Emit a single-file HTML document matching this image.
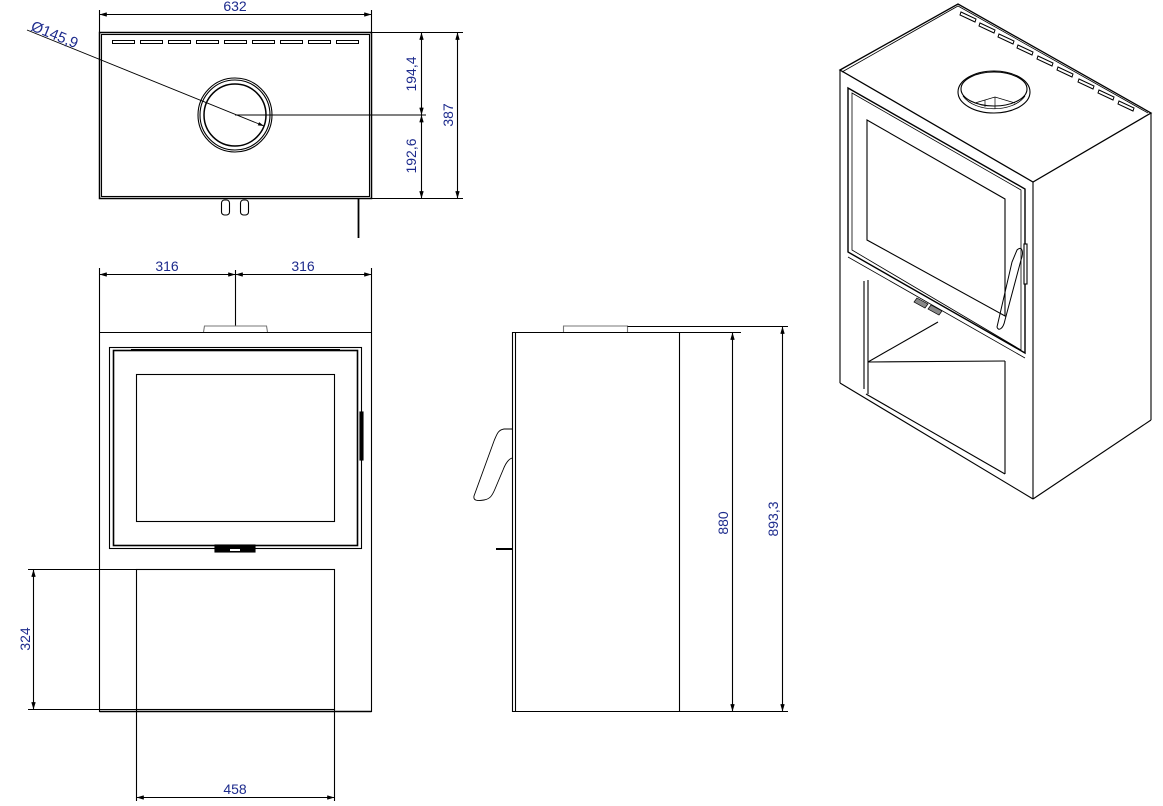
<!DOCTYPE html>
<html><head><meta charset="utf-8"><style>
html,body{margin:0;padding:0;background:#fff;}
svg{display:block;}
text{font-family:"Liberation Sans",sans-serif;font-size:14px;fill:#1c2a8c;}
</style></head><body>
<svg width="1163" height="806" viewBox="0 0 1163 806" xmlns="http://www.w3.org/2000/svg">
<defs>
<marker id="a" viewBox="0 0 10 6" refX="10" refY="3" markerWidth="8" markerHeight="4" orient="auto-start-reverse"><path d="M0,0L10,3L0,6z" fill="#000"/></marker>
</defs>
<g fill="none" stroke="#000" stroke-width="1.1">
<!-- TOP VIEW -->
<rect x="99.5" y="32.5" width="272" height="166" stroke-width="1.5"/>
<rect x="101.5" y="34.5" width="268" height="162"/>
<g stroke-width="1">
<rect x="112.5" y="40.5" width="22" height="3"/><rect x="140.5" y="40.5" width="22" height="3"/><rect x="168.5" y="40.5" width="22" height="3"/><rect x="196.5" y="40.5" width="22" height="3"/><rect x="224.5" y="40.5" width="22" height="3"/><rect x="252.5" y="40.5" width="22" height="3"/><rect x="280.5" y="40.5" width="22" height="3"/><rect x="308.5" y="40.5" width="22" height="3"/><rect x="336.5" y="40.5" width="22" height="3"/>
</g>
<circle cx="235" cy="115" r="37"/><circle cx="235" cy="115" r="35"/><circle cx="235" cy="115" r="31" stroke-width="1.5"/>
<line x1="27" y1="30" x2="264" y2="126" stroke-width="0.9" marker-end="url(#a)"/>
<line x1="235" y1="115" x2="426" y2="115"/>
<line x1="99.5" y1="10" x2="99.5" y2="32"/><line x1="371.5" y1="10" x2="371.5" y2="32"/>
<line x1="99.5" y1="14.5" x2="371.5" y2="14.5" marker-start="url(#a)" marker-end="url(#a)"/>
<line x1="371" y1="32.5" x2="463" y2="32.5"/><line x1="371" y1="198.5" x2="463" y2="198.5"/>
<line x1="421.5" y1="32.5" x2="421.5" y2="115" marker-start="url(#a)" marker-end="url(#a)"/>
<line x1="421.5" y1="115" x2="421.5" y2="198.5" marker-start="url(#a)" marker-end="url(#a)"/>
<line x1="457.5" y1="32.5" x2="457.5" y2="198.5" marker-start="url(#a)" marker-end="url(#a)"/>
<rect x="221.5" y="200" width="8" height="15" rx="3"/><rect x="240.5" y="200" width="8" height="15" rx="3"/>
<line x1="358.5" y1="198" x2="358.5" y2="238" stroke-width="1.8"/>

<!-- FRONT VIEW -->
<line x1="99.5" y1="268" x2="99.5" y2="712"/><line x1="371.5" y1="268" x2="371.5" y2="712"/>
<line x1="99.5" y1="332.5" x2="371.5" y2="332.5"/>
<line x1="99.5" y1="711.5" x2="371.5" y2="711.5" stroke-width="1.5"/>
<line x1="99.5" y1="274.5" x2="235.5" y2="274.5" marker-start="url(#a)" marker-end="url(#a)"/>
<line x1="235.5" y1="274.5" x2="371.5" y2="274.5" marker-start="url(#a)" marker-end="url(#a)"/>
<line x1="235.5" y1="270" x2="235.5" y2="326"/>
<path d="M203.5,332 L204.5,326 L266.5,326 L267.5,332" stroke="#777"/>
<rect x="109.5" y="347.5" width="252" height="201"/>
<rect x="113.5" y="350.5" width="244" height="195" stroke-width="1.6"/>
<line x1="131" y1="349.5" x2="340" y2="349.5"/>
<rect x="136.5" y="374.5" width="198" height="147"/>
<rect x="360" y="412" width="3" height="48" fill="#000"/>
<rect x="215" y="545" width="40" height="7" fill="#000"/><rect x="230" y="549" width="10" height="2" fill="#fff" stroke="none"/>
<rect x="136.5" y="569.5" width="198" height="140"/>
<line x1="136.5" y1="709" x2="136.5" y2="801"/><line x1="334.5" y1="709" x2="334.5" y2="801"/>
<line x1="136.5" y1="797.5" x2="334.5" y2="797.5" marker-start="url(#a)" marker-end="url(#a)"/>
<line x1="28" y1="569.5" x2="136" y2="569.5"/><line x1="28" y1="709.5" x2="136" y2="709.5"/>
<line x1="33.5" y1="569.5" x2="33.5" y2="709.5" marker-start="url(#a)" marker-end="url(#a)"/>

<!-- SIDE VIEW -->
<line x1="512.5" y1="332.5" x2="741" y2="332.5"/>
<line x1="512.5" y1="711.5" x2="788" y2="711.5"/>
<line x1="512.5" y1="332" x2="512.5" y2="712"/><line x1="515.5" y1="332" x2="515.5" y2="712"/>
<line x1="679.5" y1="332" x2="679.5" y2="712"/>
<path d="M563.5,332 L563.5,326 L627.5,326 L627.5,332" stroke="#777"/>
<line x1="627.5" y1="326.5" x2="788" y2="326.5"/>
<line x1="732.5" y1="332.5" x2="732.5" y2="711.5" marker-start="url(#a)" marker-end="url(#a)"/>
<line x1="782.5" y1="326.5" x2="782.5" y2="711.5" marker-start="url(#a)" marker-end="url(#a)"/>
<path d="M512,429 L504,429 C498,430 497,434 494,441 L474,496 C473,501 478,501 484,500 C490,499 492,496 495,489 L503,470 C506,462 509,459 512,458" stroke-width="0.9"/>
<line x1="496" y1="549" x2="512" y2="549" stroke-width="2"/>

<!-- ISOMETRIC -->
<path d="M840,70 L958,4 L1151,113 L1033,182 Z" stroke-width="1.3"/>
<path d="M842,72 L958,6 L1148,113" stroke-width="0.8"/>
<line x1="840" y1="70" x2="840" y2="383"/>
<line x1="1033" y1="182" x2="1033" y2="499"/>
<line x1="1151" y1="113" x2="1151" y2="420"/>
<line x1="840" y1="383" x2="1033" y2="499"/>
<line x1="1033" y1="499" x2="1151" y2="420"/>
<path d="M848,88 L1025,189 L1025,353 L848,252 Z" stroke-width="1.4"/>
<path d="M852,93 L1021,190 L1021,350 L852,250 Z" stroke-width="0.8"/>
<path d="M867,120 L1005,199 L1005,316 L867,240 Z"/>
<path d="M848,257 L1025,358" stroke-width="0.8"/>
<line x1="868" y1="280" x2="868" y2="394"/>
<line x1="864" y1="281" x2="864" y2="389"/>
<line x1="866" y1="394" x2="1005" y2="474"/>
<line x1="868" y1="362" x2="938" y2="322"/>
<line x1="868" y1="362" x2="1005" y2="361"/>
<line x1="1005" y1="361" x2="1005" y2="474"/>
<ellipse cx="994" cy="92" rx="36" ry="21"/>
<ellipse cx="994" cy="89" rx="33" ry="17"/>
<path d="M963,96 C975,113 1013,113 1025,96" stroke-width="0.8"/>
<path d="M975,103 L995,97 L1015,103 M995,97 L995,109 M985,100 L985,107" stroke-width="0.7"/>
<path d="M1017,250 C1022,245 1024,252 1021,260 L1005,320 C1003,330 998,331 997,327 L1012,262 Z" stroke-width="1"/>
<rect x="1024" y="244" width="3" height="40" fill="#fff"/>
<path d="M917,298 L928,304 L925,308 L914,302 Z M931,305 L942,311 L939,315 L928,309 Z" fill="#888" stroke-width="0.7"/>
<g stroke-width="1" fill="#fff">
<path d="M961,12 L976,19 L975,22 L960,15 Z"/><path d="M980,23 L995,30 L994,33 L979,26 Z"/><path d="M999,34 L1014,41 L1013,44 L998,37 Z"/><path d="M1018,45 L1033,52 L1032,55 L1017,48 Z"/><path d="M1038,56 L1053,63 L1052,66 L1037,59 Z"/><path d="M1058,67 L1073,74 L1072,77 L1057,70 Z"/><path d="M1079,79 L1094,86 L1093,89 L1078,82 Z"/><path d="M1099,90 L1114,97 L1113,100 L1098,93 Z"/><path d="M1119,101 L1134,108 L1133,111 L1118,104 Z"/>
</g>
</g>
<!-- labels -->
<text x="235" y="11" text-anchor="middle">632</text>
<text x="30" y="30" transform="rotate(22 30 30)" style="font-size:15px">Ø145,9</text>
<text x="0" y="0" transform="translate(416,74) rotate(-90)" text-anchor="middle">194,4</text>
<text x="0" y="0" transform="translate(416,156) rotate(-90)" text-anchor="middle">192,6</text>
<text x="0" y="0" transform="translate(453,115) rotate(-90)" text-anchor="middle">387</text>
<text x="167" y="271" text-anchor="middle">316</text>
<text x="303" y="271" text-anchor="middle">316</text>
<text x="0" y="0" transform="translate(30,639) rotate(-90)" text-anchor="middle">324</text>
<text x="235" y="794" text-anchor="middle">458</text>
<text x="0" y="0" transform="translate(728,523) rotate(-90)" text-anchor="middle">880</text>
<text x="0" y="0" transform="translate(778,519) rotate(-90)" text-anchor="middle">893,3</text>
</svg>
</body></html>
